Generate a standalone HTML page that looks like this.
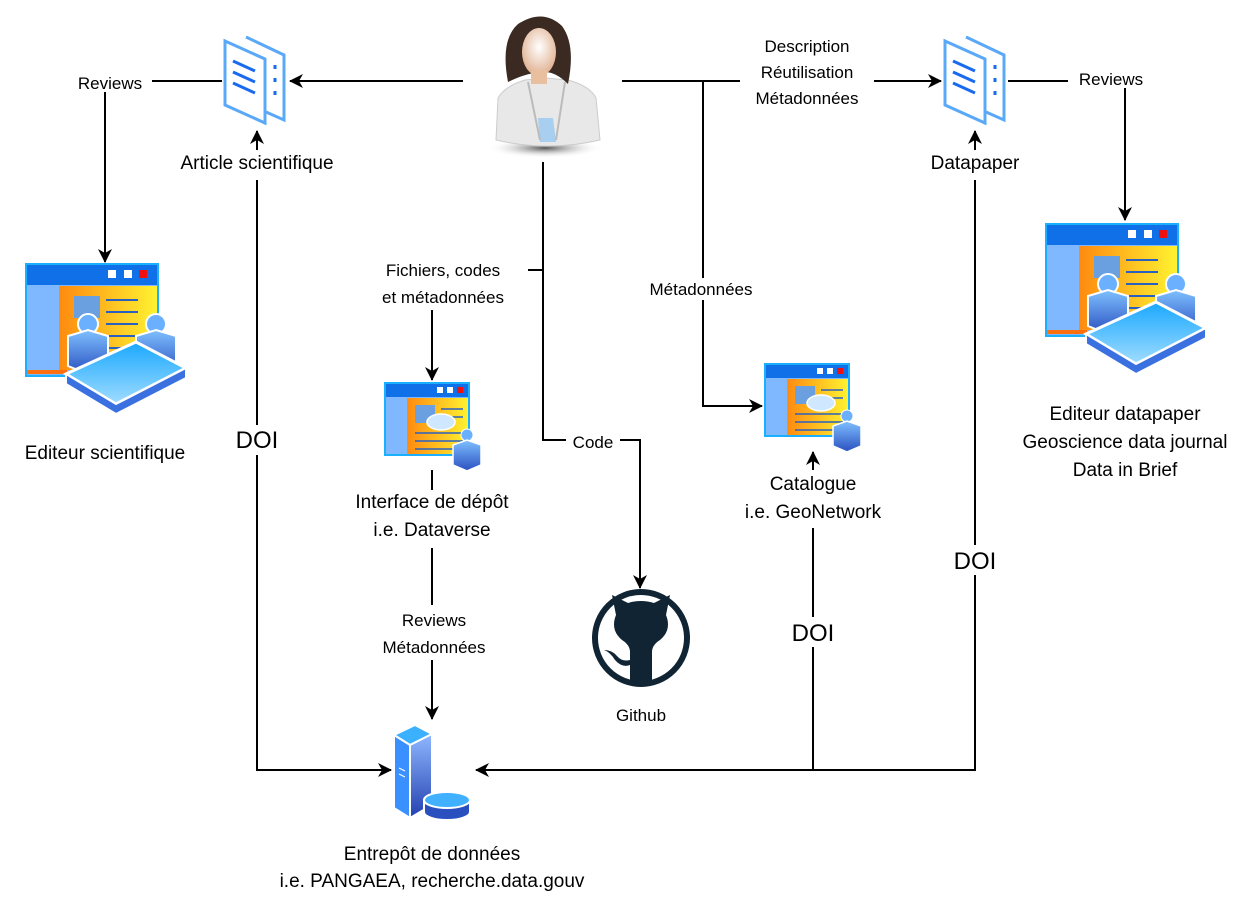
<!DOCTYPE html>
<html><head><meta charset="utf-8"><style>
html,body{margin:0;padding:0;background:#fff;}
svg{display:block;}
text{font-family:"Liberation Sans",sans-serif;fill:#000;}
</style></head><body>
<svg width="1258" height="898" viewBox="0 0 1258 898" xmlns="http://www.w3.org/2000/svg">
<defs>
<marker id="ah" markerWidth="16" markerHeight="16" refX="13" refY="7" orient="auto" markerUnits="userSpaceOnUse">
<path d="M0,0 L14,7 L0,14 L4,7 Z" fill="#000"/></marker>
<linearGradient id="og" x1="0" x2="1"><stop offset="0" stop-color="#ff8a10"/><stop offset="1" stop-color="#fff230"/></linearGradient>
<linearGradient id="bg" x1="0" y1="0" x2="0" y2="1"><stop offset="0" stop-color="#7fc0ff"/><stop offset="1" stop-color="#2a50c0"/></linearGradient>
<linearGradient id="pl" x1="0" y1="0" x2="0" y2="1"><stop offset="0" stop-color="#1aa8ff"/><stop offset="1" stop-color="#a0dcff"/></linearGradient>
<linearGradient id="sv" x1="0" y1="0" x2="0" y2="1"><stop offset="0" stop-color="#8fb8ff"/><stop offset="1" stop-color="#2440b0"/></linearGradient>
<radialGradient id="face" cx="0.5" cy="0.4" r="0.6"><stop offset="0" stop-color="#fff"/><stop offset="1" stop-color="#e0b090"/></radialGradient>
<radialGradient id="sh" cx="0.5" cy="0.5" r="0.5"><stop offset="0" stop-color="#555"/><stop offset="1" stop-color="#fff" stop-opacity="0"/></radialGradient>
<g id="doc" fill="none" stroke="#5aa8f8" stroke-width="3">
<path d="M24,2 L62,20 L62,85 L44,77"/>
<path d="M3,6 L43,24 L43,88 L3,70 Z" fill="#fff"/>
<g stroke="#1a6af0" stroke-width="3"><line x1="11" y1="26" x2="33" y2="36"/><line x1="11" y1="37" x2="33" y2="47"/><line x1="11" y1="48" x2="33" y2="58"/></g>
<g stroke="#1a6af0" stroke-width="3"><line x1="53" y1="30" x2="53" y2="34"/><line x1="53" y1="43" x2="53" y2="47"/><line x1="53" y1="56" x2="53" y2="60"/></g>
</g>
<g id="win">
<rect x="0" y="0" width="132" height="112" fill="#7fb8ff" stroke="#1ab0ff" stroke-width="2"/>
<rect x="1" y="1" width="130" height="20" fill="#1070e8"/>
<rect x="82" y="6" width="8" height="8" fill="#fff"/><rect x="98" y="6" width="8" height="8" fill="#fff"/><rect x="113" y="6" width="8" height="8" fill="#f01010"/>
<rect x="33" y="22" width="98" height="84" fill="url(#og)"/>
<rect x="1" y="106" width="40" height="4" fill="#ff7010"/>
<rect x="48" y="32" width="26" height="22" fill="#6aa0e0"/>
<g stroke="#2a60c0" stroke-width="2"><line x1="80" y1="36" x2="112" y2="36"/><line x1="80" y1="48" x2="112" y2="48"/><line x1="80" y1="60" x2="112" y2="60"/><line x1="80" y1="72" x2="112" y2="72"/><line x1="80" y1="84" x2="112" y2="84"/></g>
</g>
<g id="pers">
<circle cx="20" cy="10" r="10" fill="#6ab0ff" stroke="#fff" stroke-width="2"/>
<path d="M0,22 L20,16 L40,22 L40,52 L20,60 L0,52 Z" fill="url(#bg)" stroke="#fff" stroke-width="2"/>
</g>
<g id="editor">
<use href="#win"/>
<use href="#pers" x="42" y="50"/><use href="#pers" x="110" y="50"/>
<path d="M40,110 L110,78 L160,104 L90,140 Z" fill="url(#pl)" stroke="#fff" stroke-width="3"/>
<path d="M40,110 L90,140 L160,104 L160,114 L90,150 L40,120 Z" fill="#3a70e0" stroke="#fff" stroke-width="2"/>
</g>
<g id="iface">
<rect x="0" y="0" width="84" height="72" fill="#7fb8ff" stroke="#1ab0ff" stroke-width="2"/>
<rect x="1" y="1" width="82" height="13" fill="#1070e8"/>
<rect x="52" y="4" width="6" height="6" fill="#fff"/><rect x="62" y="4" width="6" height="6" fill="#fff"/><rect x="72" y="4" width="6" height="6" fill="#f01010"/>
<rect x="22" y="15" width="61" height="56" fill="url(#og)"/>
<rect x="30" y="22" width="20" height="18" fill="#6aa0e0"/>
<g stroke="#2a60c0" stroke-width="1.5"><line x1="56" y1="26" x2="78" y2="26"/><line x1="56" y1="34" x2="78" y2="34"/><line x1="30" y1="50" x2="78" y2="50"/><line x1="30" y1="58" x2="78" y2="58"/><line x1="30" y1="66" x2="78" y2="66"/></g>
<ellipse cx="56" cy="39" rx="14" ry="8" fill="#cfe8ff" stroke="#fff" stroke-width="1.5"/>
<circle cx="82" cy="52" r="6" fill="#6ab0ff" stroke="#fff"/>
<path d="M68,62 L82,57 L96,62 L96,82 L82,88 L68,82 Z" fill="url(#bg)" stroke="#fff" stroke-width="1.5"/>
</g>
</defs>

<!-- person -->
<ellipse cx="545" cy="148" rx="58" ry="10" fill="url(#sh)"/>
<path d="M496,140 L498,98 Q505,86 525,80 L545,78 L568,80 Q590,86 596,98 L600,140 Q548,152 496,140 Z" fill="#e8e8e8" stroke="#ccc"/>
<path d="M538,118 L553,118 L556,142 L540,142 Z" fill="#a8cef0"/>
<path d="M528,82 L540,140 M565,82 L556,140" stroke="#bbb" stroke-width="2" fill="none"/>
<path d="M508,82 Q500,40 518,24 Q543,8 562,26 Q576,45 568,84 Q556,72 545,72 Q528,72 508,82 Z" fill="#3a2a22"/>
<ellipse cx="539" cy="52" rx="17" ry="24" fill="url(#face)"/>
<rect x="531" y="70" width="16" height="14" fill="#e8c0a0"/>

<!-- docs -->
<use href="#doc" x="222" y="35"/>
<use href="#doc" x="942" y="35"/>

<!-- editors -->
<use href="#editor" x="26" y="264"/>
<use href="#editor" x="1046" y="224"/>
<use href="#iface" x="385" y="383"/>
<use href="#iface" x="765" y="364"/>

<!-- github -->
<circle cx="641" cy="638" r="46" fill="#fff" stroke="#102433" stroke-width="6"/>
<path d="M616,615 L612,595 L628,603 Q641,599 654,603 L670,595 L666,615 Q672,630 660,640 Q652,645 652,652 L652,685 L630,685 L630,665 Q622,668 615,660 Q610,652 604,650 Q612,650 617,656 Q622,662 630,660 L630,652 Q630,645 622,640 Q610,630 616,615 Z" fill="#102433"/>

<!-- server -->
<path d="M394,735 L415,725 L432,734 L410,745 Z" fill="#3ab0ff" stroke="#fff" stroke-width="2"/>
<path d="M394,735 L410,745 L410,818 L394,808 Z" fill="#3a90ff" stroke="#fff" stroke-width="2"/>
<path d="M410,745 L432,734 L432,805 L410,818 Z" fill="url(#sv)" stroke="#fff" stroke-width="2"/>
<line x1="399" y1="768" x2="405" y2="771" stroke="#fff"/><line x1="399" y1="774" x2="405" y2="777" stroke="#fff"/>
<path d="M424,800 L424,812 A23,8 0 0 0 470,812 L470,800 Z" fill="#2a50c0" stroke="#fff" stroke-width="2"/>
<ellipse cx="447" cy="800" rx="23" ry="8" fill="#40b0ff" stroke="#fff" stroke-width="2"/>

<!-- connectors -->
<g stroke="#000" stroke-width="2" fill="none">
<line x1="463" y1="81" x2="290" y2="81" marker-end="url(#ah)"/>
<polyline points="222,81 105,81 105,262" marker-end="url(#ah)"/>
<line x1="257" y1="150" x2="257" y2="131" marker-end="url(#ah)"/>
<polyline points="257,180 257,770 391,770" marker-end="url(#ah)"/>
<line x1="622" y1="81" x2="941" y2="81" marker-end="url(#ah)"/>
<polyline points="703,81 703,406 762,406" marker-end="url(#ah)"/>
<polyline points="1008,81 1125,81 1125,220" marker-end="url(#ah)"/>
<line x1="975" y1="150" x2="975" y2="131" marker-end="url(#ah)"/>
<polyline points="975,180 975,770 476,770" marker-end="url(#ah)"/>
<line x1="813" y1="770" x2="813" y2="528"/>
<line x1="813" y1="470" x2="813" y2="452" marker-end="url(#ah)"/>
<polyline points="543,162 543,440 640,440 640,588" marker-end="url(#ah)"/>
<line x1="543" y1="270" x2="528" y2="270"/>
<line x1="432" y1="310" x2="432" y2="380" marker-end="url(#ah)"/>
<line x1="432" y1="470" x2="432" y2="490"/>
<line x1="432" y1="548" x2="432" y2="605"/>
<line x1="432" y1="660" x2="432" y2="719" marker-end="url(#ah)"/>
</g>

<!-- label backgrounds -->
<g fill="#fff">
<rect x="68" y="72" width="84" height="20"/>
<rect x="1068" y="68" width="86" height="20"/>
<rect x="740" y="34" width="134" height="76"/>
<rect x="634" y="278" width="134" height="22"/>
<rect x="226" y="425" width="60" height="30"/>
<rect x="945" y="545" width="60" height="30"/>
<rect x="783" y="617" width="60" height="30"/>
<rect x="566" y="432" width="54" height="20"/>
<rect x="160" y="150" width="194" height="28"/>
<rect x="920" y="150" width="110" height="28"/>
</g>

<!-- labels -->
<g font-size="17" text-anchor="middle">
<text x="110" y="89">Reviews</text>
<text x="1111" y="85">Reviews</text>
<text x="807" y="52">Description</text>
<text x="807" y="78">Réutilisation</text>
<text x="807" y="104">Métadonnées</text>
<text x="701" y="295">Métadonnées</text>
<text x="593" y="448">Code</text>
<text x="443" y="276">Fichiers, codes</text>
<text x="443" y="303">et métadonnées</text>
<text x="434" y="626">Reviews</text>
<text x="434" y="653">Métadonnées</text>
<text x="641" y="721">Github</text>
</g>
<g font-size="19" text-anchor="middle">
<text x="257" y="169">Article scientifique</text>
<text x="975" y="169">Datapaper</text>
<text x="105" y="459">Editeur scientifique</text>
<text x="1125" y="420">Editeur datapaper</text>
<text x="1125" y="448">Geoscience data journal</text>
<text x="1125" y="476">Data in Brief</text>
<text x="432" y="508">Interface de dépôt</text>
<text x="432" y="536">i.e. Dataverse</text>
<text x="813" y="490">Catalogue</text>
<text x="813" y="518">i.e. GeoNetwork</text>
<text x="432" y="860">Entrepôt de données</text>
<text x="432" y="887">i.e. PANGAEA, recherche.data.gouv</text>
</g>
<g font-size="24" text-anchor="middle">
<text x="257" y="448">DOI</text>
<text x="975" y="569">DOI</text>
<text x="813" y="641">DOI</text>
</g>
</svg>
</body></html>
